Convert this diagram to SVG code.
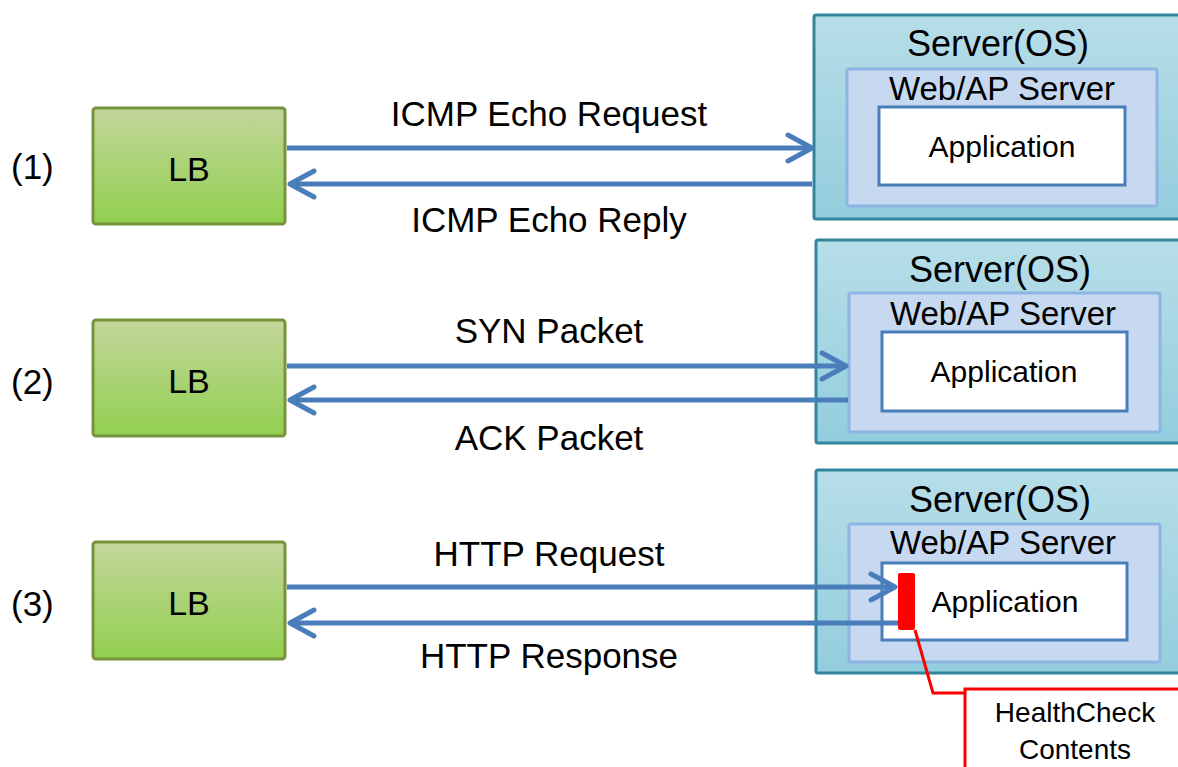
<svg xmlns="http://www.w3.org/2000/svg" width="1178" height="767" viewBox="0 0 1178 767">
<style>
text{font-family:"Liberation Sans",Arial,sans-serif;fill:#000;text-anchor:middle}
.lb{fill:url(#gLB);stroke:#77933c;stroke-width:3}
.os{fill:url(#gOS);stroke:#31859c;stroke-width:3}
.web{fill:#c6d9f1;stroke:#8eb4e3;stroke-width:3}
.app{fill:#fff;stroke:#4a7ebb;stroke-width:3}
.conn{fill:none;stroke:#4a7ebb;stroke-width:5;marker-end:url(#ah)}
.lab{font-size:35px}
.num{font-size:35px;text-anchor:start}
.t-lb{font-size:34px}
.t-os{font-size:36px}
.t-web{font-size:33px}
.t-app{font-size:30px}
.t-hc{font-size:28px}
</style>
<defs>
<linearGradient id="gLB" x1="0" y1="0" x2="0" y2="1"><stop offset="0" stop-color="#c3d69b"/><stop offset="1" stop-color="#92d050"/></linearGradient>
<linearGradient id="gOS" x1="0" y1="0" x2="0" y2="1"><stop offset="0" stop-color="#b7dee8"/><stop offset="1" stop-color="#93cddd"/></linearGradient>
<marker id="ah" markerUnits="userSpaceOnUse" viewBox="-28 -16 32 32" refX="0" refY="0" markerWidth="32" markerHeight="32" orient="auto">
<path d="M-24,-13 L0,0 L-24,13" fill="none" stroke="#4a7ebb" stroke-width="5" stroke-linecap="round" stroke-linejoin="round"/>
</marker>
</defs>
<rect width="1178" height="767" fill="#fff"/>

<g id="label-1"><text class="num" x="11" y="179">(1)</text></g>
<g id="label-2"><text class="num" x="11" y="394">(2)</text></g>
<g id="label-3"><text class="num" x="11" y="616">(3)</text></g>

<g id="lb1"><rect class="lb" x="93" y="108" width="192" height="116" rx="3"/><text class="t-lb" x="189" y="181">LB</text></g>
<g id="lb2"><rect class="lb" x="93" y="320" width="192" height="116" rx="3"/><text class="t-lb" x="189" y="393">LB</text></g>
<g id="lb3"><rect class="lb" x="93" y="542" width="192" height="117" rx="3"/><text class="t-lb" x="189" y="615">LB</text></g>

<g id="server1">
<rect class="os" x="814" y="15" width="380" height="204" rx="2"/>
<text class="t-os" x="998" y="56">Server(OS)</text>
<rect class="web" x="847" y="69" width="310" height="137" rx="2"/>
<text class="t-web" x="1002" y="100">Web/AP Server</text>
<rect class="app" x="879" y="107" width="246" height="78"/>
<text class="t-app" x="1002" y="157">Application</text>
</g>
<g id="server2">
<rect class="os" x="816" y="240" width="380" height="203" rx="2"/>
<text class="t-os" x="1000" y="282">Server(OS)</text>
<rect class="web" x="849" y="293" width="311" height="139" rx="2"/>
<text class="t-web" x="1003" y="325">Web/AP Server</text>
<rect class="app" x="882" y="332" width="245" height="79"/>
<text class="t-app" x="1004" y="382">Application</text>
</g>
<g id="server3">
<rect class="os" x="816" y="470" width="380" height="203" rx="2"/>
<text class="t-os" x="1000" y="512">Server(OS)</text>
<rect class="web" x="849" y="524" width="311" height="138" rx="2"/>
<text class="t-web" x="1003" y="554">Web/AP Server</text>
<rect class="app" x="882" y="563" width="245" height="77"/>
<text class="t-app" x="1005" y="612">Application</text>
</g>

<g id="connectors">
<path class="conn" d="M287,148 H812"/>
<path class="conn" d="M812,184 H290"/>
<path class="conn" d="M287,366 H846"/>
<path class="conn" d="M848,400 H290"/>
<path class="conn" d="M287,587 H895"/>
<path class="conn" d="M898,623 H290"/>
<text class="lab" x="549" y="126">ICMP Echo Request</text>
<text class="lab" x="549" y="232">ICMP Echo Reply</text>
<text class="lab" x="549" y="343">SYN Packet</text>
<text class="lab" x="549" y="450">ACK Packet</text>
<text class="lab" x="549" y="566">HTTP Request</text>
<text class="lab" x="549" y="668">HTTP Response</text>
</g>

<g id="healthcheck">
<rect x="898" y="573" width="17" height="57" rx="2" fill="#ff0000"/>
<path d="M915,630 L933,693 H966" fill="none" stroke="#ff0000" stroke-width="3"/>
<rect x="965" y="689" width="230" height="100" fill="#fff" stroke="#ff0000" stroke-width="3"/>
<text class="t-hc" x="1075" y="722">HealthCheck</text>
<text class="t-hc" x="1075" y="759">Contents</text>
</g>
</svg>
